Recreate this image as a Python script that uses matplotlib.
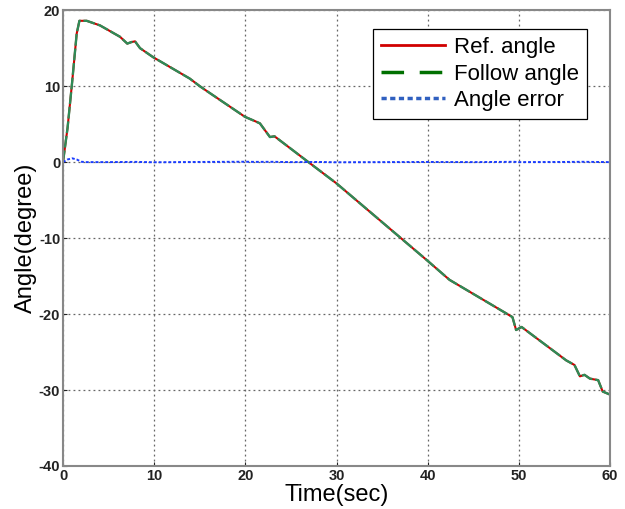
import matplotlib.pyplot as plt
import numpy as np

plt.rcParams['font.family'] = ['Liberation Sans', 'DejaVu Sans']
plt.rcParams['axes.unicode_minus'] = False

# values
t = [0, 0.5, 1.0, 1.5, 1.8, 2.6, 4.05, 6.25, 7.05, 7.5, 7.9, 8.45, 9.9, 13.9, 15.0, 15.6,
     19.96, 21.05, 21.6, 22.7, 23.2, 26.7, 30.0, 35.0, 40.0, 42.4, 48.6, 49.3, 49.7,
     50.3, 55.2, 56.1, 56.7, 57.2, 57.8, 58.7, 59.2, 59.8, 60.0]
ref_angle = [0, 4.5, 10.5, 16.9, 18.6, 18.6, 18.0, 16.5, 15.6, 15.8, 15.9, 15.0, 13.8, 11.0,
             10.0, 9.5, 5.96, 5.4, 5.1, 3.3, 3.4, 0.2, -2.8, -7.9, -13.0, -15.5, -19.9,
             -20.4, -22.1, -21.7, -26.1, -26.7, -28.2, -28.0, -28.5, -28.7, -30.2, -30.5,
             -30.6]
follow_angle = ref_angle

t_err = [0, 0.5, 1.0, 1.5, 2.0, 2.5, 5, 8, 10, 15, 20, 21, 23, 25, 28, 30, 35, 40, 45,
         49.5, 50, 55, 57, 60]
angle_err = [0, 0.35, 0.5, 0.35, 0.05, 0.0, 0.0, 0.03, -0.02, 0.02, 0.05, 0.03, 0.04, 0.0,
             0.02, -0.02, 0.0, 0.02, 0.0, 0.04, 0.0, 0.02, 0.04, 0.0]

fig = plt.figure(figsize=(6.25, 5.09), dpi=100)
ax = fig.add_axes([0.1008, 0.0845, 0.8752, 0.8955])

ax.plot(t, ref_angle, c='#d00000', lw=1.5, label='Ref. angle')
ax.plot(t, follow_angle, c='#2e8b57', lw=1.7, ls=(0, (5, 1.2)), label='Follow angle')
ax.plot(t_err, angle_err, c='#1a3cff', lw=1.4, ls=(0, (1.5, 1)), label='Angle error')

ax.set_xlim(0, 60)
ax.set_ylim(-40, 20)
ax.set_xticks(np.arange(0, 61, 10))
ax.set_yticks(np.arange(-40, 21, 10))
ax.grid(True, ls=(0, (1.5, 2.5)), c='#666666', lw=0.9)
ax.tick_params(direction='in', length=3, labelsize=10.5, colors='#222222', pad=2)
for lab in ax.get_xticklabels() + ax.get_yticklabels():
    lab.set_fontweight('bold')
for sp in ax.spines.values():
    sp.set_color('#888888')
    sp.set_linewidth(1.5)

ax.set_xlabel('Time(sec)', fontsize=17, labelpad=1)
ax.set_ylabel('Angle(degree)', fontsize=17, labelpad=1)

leg = ax.legend(loc='upper right', bbox_to_anchor=(0.958, 0.958), borderaxespad=0,
                fontsize=16, handlelength=2.9, handletextpad=0.4, borderpad=0.35,
                labelspacing=0.25, fancybox=False, framealpha=1, edgecolor='black')
leg.get_frame().set_linewidth(0.9)
leg.legend_handles[0].set_linewidth(2)
leg.legend_handles[1].set_color('#007000')
leg.legend_handles[1].set_linewidth(2.5)
leg.legend_handles[1].set_linestyle((0, (6.5, 4.5)))
leg.legend_handles[2].set_color('#3060c0')
leg.legend_handles[2].set_linewidth(2.5)

fig.savefig('out.png')
